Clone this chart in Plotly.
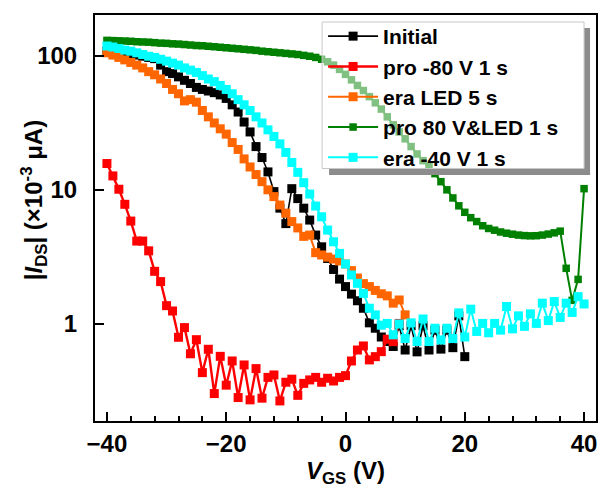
import plotly.graph_objects as go

# ---- data (V_GS in volts, |I_DS| in 1e-3 uA) ----
v_initial = list(range(-40, 21))
i_initial = [108, 107, 106, 104, 103, 101, 99, 97, 95, 85, 76, 73.5, 69.5, 65.5, 62, 58, 56, 54.5,
             53, 51, 48, 43, 38, 32, 27, 21, 17.4, 13.6, 9.7, 7.3, 5.6, 10.2, 8.6, 7.3, 5.95, 4.6,
             3.76, 3.08, 2.55, 2.16, 1.9, 1.67, 1.49, 1.31, 1.02, 0.93, 0.80, 0.74, 0.68, 0.97,
             0.64, 0.97, 0.62, 0.97, 0.64, 0.9, 0.65, 0.9, 0.666, 1.15, 0.571]

v_pro80n = list(range(-40, 10))
i_pro80n = [15.7, 12.7, 10.1, 7.8, 5.85, 4.15, 4.15, 3.51, 2.47, 2.07, 1.37, 1.25, 0.796, 0.94,
            0.60, 0.764, 0.434, 0.648, 0.303, 0.574, 0.35, 0.53, 0.283, 0.495, 0.272, 0.465,
            0.28, 0.40, 0.417, 0.267, 0.368, 0.388, 0.294, 0.361, 0.383, 0.40, 0.368, 0.394,
            0.376, 0.40, 0.412, 0.53, 0.64, 0.686, 0.54, 0.571, 0.622, 0.77, 0.738, 1.01]

v_eraled = list(range(-40, 11))
i_eraled = [105, 101, 97, 93, 89, 85, 81, 76, 72, 67, 62, 56, 52, 46, 47, 45, 39, 35, 31.5, 28.5,
            26, 22.5, 20, 17, 14.8, 13, 11.5, 10, 8.9, 7.7, 6.7, 5.8, 5.2, 4.5, 4.6, 3.4, 3.27,
            3.15, 3.05, 2.95, 2.8, 2.5, 2.2, 2.0, 1.9, 1.78, 1.68, 1.62, 1.43, 1.51, 1.17]

v_pro80led = list(range(-40, 41))
i_pro80led = [130, 129.5, 129, 128.5, 128, 127, 126.5, 126, 125, 124, 123.5, 122.5, 122, 121,
              120, 119, 118.5, 117.5, 116.5, 115.5, 114.5, 113.5, 112.5, 111.5, 110.5, 109.5,
              108, 107, 106, 105, 104, 103, 102, 100.5, 99, 97, 94, 90, 85, 79,
              72.5, 66, 60, 55, 49.5, 44.5, 40, 35, 30.5, 27, 24, 21, 18.5, 16.5, 15, 13.2,
              11.5, 10, 8.7, 7.6, 6.8, 6.2, 5.8, 5.4, 5.15, 5.0, 4.85, 4.75, 4.67, 4.6, 4.56,
              4.54, 4.55, 4.6, 4.68, 4.78, 4.92, 2.6, 1.5, 2.15, 10.2]

v_era40n = list(range(-40, 41))
i_era40n = [118, 116, 113, 110, 108, 105, 102, 99, 97, 94, 91, 88, 85, 81, 78, 75, 71, 67, 64,
            60, 56, 52, 47, 43, 39, 35, 31.5, 28, 25, 22, 19, 16, 13.5, 11.3, 9.3, 7.57, 6.3,
            5.01, 4.1, 3.36, 2.8, 2.32, 2.01, 1.69, 1.31, 1.17, 0.98, 1.01, 0.83, 1.0, 0.78,
            1.02, 0.74, 1.09, 0.74, 0.93, 0.76, 0.93, 0.78, 1.21, 0.80, 1.29, 0.88, 1.01, 0.86,
            1.01, 0.90, 1.35, 0.92, 1.15, 0.96, 1.19, 1.01, 1.43, 1.06, 1.47, 1.12, 1.43, 1.22,
            1.6, 1.41]

series = [
    ("Initial", v_initial, i_initial, "#000000", 9, 1.6),
    ("pro -80 V 1 s", v_pro80n, i_pro80n, "#FF0000", 9, 2.4),
    ("era LED 5 s", v_eraled, i_eraled, "#FF6600", 9, 2.0),
    ("pro 80 V&LED 1 s", v_pro80led, i_pro80led, "#008000", 7.5, 2.0),
    ("era -40 V 1 s", v_era40n, i_era40n, "#00FFFF", 9, 2.0),
]

FONT = "Liberation Sans, Arial, sans-serif"

fig = go.Figure()
for name, xs, ys, col, ms, lw in series:
    fig.add_trace(go.Scatter(
        x=xs, y=ys, name=name, mode="lines+markers",
        line=dict(color=col, width=lw),
        marker=dict(symbol="square", size=ms, color=col, line=dict(width=0)),
    ))

def px(xp):
    return (xp - 95) / 503.0

def py(yp):
    return (421 - yp) / 406.0

shapes = [
    # legend shadow (right and bottom strips)
    dict(type="rect", xref="paper", yref="paper", layer="above",
         x0=px(586), x1=px(592), y0=py(175), y1=py(28),
         fillcolor="#8c8c8c", line=dict(width=0)),
    dict(type="rect", xref="paper", yref="paper", layer="above",
         x0=px(330), x1=px(592), y0=py(175), y1=py(168.5),
         fillcolor="#8c8c8c", line=dict(width=0)),
    # legend box
    dict(type="rect", xref="paper", yref="paper", layer="above",
         x0=px(323), x1=px(586), y0=py(168.5), y1=py(22),
         fillcolor="rgba(255,255,255,0.5)", line=dict(color="#c8c8c8", width=1)),
]

fig.update_layout(
    width=603, height=488,
    margin=dict(l=95, r=5, t=15, b=67),
    paper_bgcolor="white", plot_bgcolor="white",
    font=dict(family=FONT, size=24, color="black", weight="bold"),
    showlegend=True,
    legend=dict(x=px(324), y=py(16), xanchor="left", yanchor="top",
                bgcolor="rgba(0,0,0,0)", borderwidth=0, itemwidth=50,
                font=dict(family=FONT, size=21, color="black", weight="bold"),
                tracegroupgap=0),
    shapes=shapes,
    annotations=[
        dict(text="|<i>I</i><sub>DS</sub>| (×10<sup>-3</sup> μA)", xref="paper", yref="paper",
             x=px(34), y=py(200), xanchor="center", yanchor="middle", textangle=-90,
             showarrow=False, font=dict(family=FONT, size=24, color="black", weight="bold")),
        dict(text="<i>V</i><sub>GS</sub> (V)", xref="paper", yref="paper",
             x=px(346.5), y=py(472), xanchor="center", yanchor="middle",
             showarrow=False, font=dict(family=FONT, size=24, color="black", weight="bold")),
    ],
)

fig.update_xaxes(
    range=[-42, 42], tick0=0, dtick=20, showgrid=False, zeroline=False,
    showline=True, linecolor="black", linewidth=2, mirror=True,
    ticks="inside", ticklen=9, tickwidth=2, tickcolor="black",
    ticklabelstandoff=0,
    minor=dict(tick0=0, dtick=4, ticks="inside", ticklen=5, tickwidth=2, tickcolor="black",
               showgrid=False),
)
fig.update_yaxes(
    type="log", range=[-0.723, 2.303], tickvals=[1, 10, 100], ticktext=["1", "10", "100"],
    showgrid=False, zeroline=False,
    showline=True, linecolor="black", linewidth=2, mirror=True,
    ticks="inside", ticklen=9, tickwidth=2, tickcolor="black",
    ticklabelstandoff=11,
)

fig.write_html("out.html", config={"displayModeBar": False},
               post_script="document.body.style.margin='0';document.body.style.overflow='hidden';")
